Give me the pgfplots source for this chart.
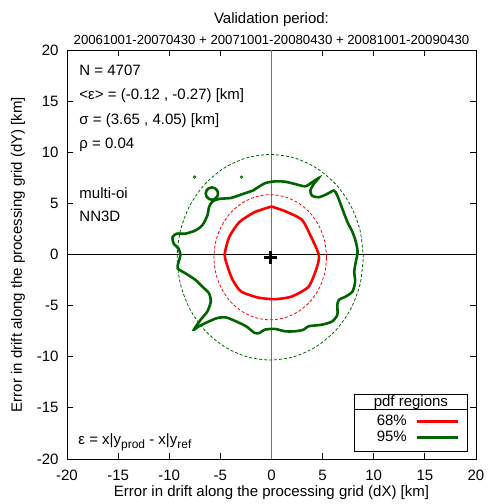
\documentclass[border=0pt]{standalone}
\usepackage{fontspec}
\setmainfont{Liberation Sans}
\usepackage{pgfplots}
\pgfplotsset{compat=1.18}
\definecolor{dgreen}{RGB}{0,100,0}
\definecolor{vred}{RGB}{255,0,0}
\begin{document}
\begin{tikzpicture}[font=\fontsize{15bp}{18bp}\selectfont]
\begin{axis}[name=ax, at={(0,0)}, anchor=south west,
  scale only axis, width=409bp, height=409bp,
  xmin=-20, xmax=20, ymin=-20, ymax=20,
  xtick={-20,-15,-10,-5,0,5,10,15,20},
  ytick={-20,-15,-10,-5,0,5,10,15,20},
  xticklabels={-20,-15,-10,-5,0,5,10,15,20},
  yticklabels={-20,-15,-10,-5,0,5,10,15,20},
  tick align=inside, major tick length=6bp,
  axis line style={line width=0.9bp},
  tick style={line width=0.8bp, black},
  xticklabel style={yshift=-8bp},
  yticklabel style={xshift=-5bp},
  every axis x label/.style={at={(axis description cs:0.5,-0.083)}, anchor=center},
  every axis y label/.style={at={(axis description cs:-0.12,0.5)}, anchor=center, rotate=90},
  xlabel={Error in drift along the processing grid (dX) [km]},
  ylabel={Error in drift along the processing grid (dY) [km]},
  legend style={draw=none, fill=none, inner sep=0pt, at={(axis cs:18.4,-15.6)}, anchor=north east,
    nodes={inner sep=0pt, text height=11bp, text depth=3bp},
    row sep=2bp, column sep=9bp, cells={anchor=east}},
  legend plot pos=right,
  legend image code/.code={\draw[#1] (0bp,0bp) -- (41bp,0bp);},
]
% zero lines
\addplot[black, line width=0.9bp, forget plot] coordinates {(-20,0) (20,0)};
\addplot[black!55, line width=1.4bp, forget plot] coordinates {(0,-20) (0,20)};

% 68% ellipse (dashed)
\addplot[vred, line width=0.8bp, dash pattern=on 3bp off 2bp, smooth, forget plot] coordinates {
(5.39,-0.27) (5.20,1.31) (4.65,2.79) (3.78,4.06) (2.64,5.03) (1.31,5.64) (-0.12,5.85)
(-1.55,5.64) (-2.88,5.03) (-4.02,4.06) (-4.89,2.79) (-5.44,1.31) (-5.63,-0.27)
(-5.44,-1.85) (-4.89,-3.33) (-4.02,-4.60) (-2.88,-5.57) (-1.55,-6.18) (-0.12,-6.39)
(1.31,-6.18) (2.64,-5.57) (3.78,-4.60) (4.65,-3.33) (5.20,-1.85) (5.39,-0.27)};

% 95% ellipse (dashed)
\addplot[dgreen, line width=0.8bp, dash pattern=on 3bp off 2bp, smooth, forget plot] coordinates {
(8.98,-0.27) (8.67,2.33) (7.76,4.76) (6.31,6.84) (4.43,8.43) (2.24,9.44) (-0.12,9.78)
(-2.48,9.44) (-4.67,8.43) (-6.55,6.84) (-8.00,4.76) (-8.91,2.33) (-9.22,-0.27)
(-8.91,-2.87) (-8.00,-5.30) (-6.55,-7.38) (-4.67,-8.97) (-2.48,-9.98) (-0.12,-10.32)
(2.24,-9.98) (4.43,-8.97) (6.31,-7.38) (7.76,-5.30) (8.67,-2.87) (8.98,-0.27)};

% 68% contour
\addplot[vred, line width=2.6bp, smooth, tension=0.4] coordinates {
(0,4.69) (1.32,4.24) (2.97,3.40) (3.80,1.88) (4.62,0) (4.46,-1.20) (3.63,-3.14)
(1.98,-4.11) (0.33,-4.37) (-1.32,-4.21) (-2.97,-3.62) (-3.80,-2.49) (-4.29,-1.20)
(-4.58,0) (-4.13,1.72) (-3.14,3.17) (-1.65,4.14) (0,4.69)};
\addlegendentry{68\%}

% 95% contour
\addplot[dgreen, line width=2.6bp, smooth, tension=0.45] coordinates {
(-1.82,6.25) (-0.66,6.96) (0.33,7.15) (1.32,7.12) (2.31,6.89) (3.30,6.67) (3.96,7.06)
(4.62,7.48) (4.13,6.89) (3.80,6.25) (3.96,5.76) (4.62,5.60) (5.45,5.92) (6.11,6.25)
(6.44,5.76) (6.93,4.47) (7.43,3.17) (7.92,2.20) (8.25,1.23) (8.42,0.26) (8.25,-0.71)
(8.09,-1.68) (8.18,-2.65) (7.92,-3.62) (7.26,-4.11) (6.60,-4.43) (6.44,-4.92)
(6.44,-5.89) (5.94,-6.54) (4.95,-6.86) (3.63,-7.02) (3.14,-7.35) (2.31,-7.51)
(1.32,-7.51) (0.33,-7.28) (-0.66,-7.35) (-1.16,-7.67) (-1.65,-7.67) (-2.48,-7.02)
(-3.47,-6.54) (-4.46,-6.15) (-5.28,-6.21) (-6.11,-6.54) (-7.10,-7.02) (-7.59,-7.35)
(-6.93,-6.38) (-6.27,-5.57) (-5.94,-4.60) (-6.11,-3.79) (-6.60,-3.30) (-7.43,-2.49)
(-8.42,-1.84) (-9.17,-1.36) (-9.08,-0.71) (-8.91,-0.06) (-9.08,0.58) (-9.57,1.07)
(-9.67,1.72) (-9.24,2.04) (-8.42,2.04) (-7.43,2.36) (-6.77,2.85) (-6.27,3.82)
(-6.11,4.63) (-5.78,5.18) (-5.12,5.44) (-3.96,5.53) (-2.81,5.92) (-1.82,6.25)};
\addlegendentry{95\%}

% small closed contour
\addplot[dgreen, line width=2.6bp, smooth, forget plot] coordinates {
(-5.23,5.96) (-5.31,6.26) (-5.53,6.48) (-5.83,6.56) (-6.13,6.48) (-6.35,6.26) (-6.43,5.96)
(-6.35,5.66) (-6.13,5.44) (-5.83,5.36) (-5.53,5.44) (-5.31,5.66) (-5.23,5.96)};
% tiny contours
\addplot[only marks, mark=o, mark size=1.2bp, dgreen, line width=0.8bp, forget plot] coordinates {(-7.52,7.57) (-2.94,7.57)};

% mean
\addplot[only marks, mark=+, mark size=6.3bp, black, mark options={line width=2.6bp}, forget plot] coordinates {(-0.12,-0.27)};

% texts
\node[anchor=base west, inner sep=0pt] at (axis cs:-18.8,17.5) {N = 4707};
\node[anchor=base west, inner sep=0pt] at (axis cs:-18.8,15.12) {<ε> = (-0.12 , -0.27) [km]};
\node[anchor=base west, inner sep=0pt] at (axis cs:-18.8,12.74) {σ = (3.65 , 4.05) [km]};
\node[anchor=base west, inner sep=0pt] at (axis cs:-18.8,10.36) {ρ = 0.04};
\node[anchor=base west, inner sep=0pt] at (axis cs:-18.8,5.5) {multi-oi};
\node[anchor=base west, inner sep=0pt] at (axis cs:-18.8,3.2) {NN3D};
\node[anchor=base west, inner sep=0pt] at (axis cs:-18.9,-18.6) {ε = x|y\raisebox{-0.45ex}{\fontsize{12bp}{14bp}\selectfont prod} - x|y\raisebox{-0.45ex}{\fontsize{12bp}{14bp}\selectfont ref}};

% legend frame
\draw[line width=0.8bp] (axis cs:8.07,-13.68) rectangle (axis cs:19.2,-19.3);
\draw[line width=0.8bp] (axis cs:8.07,-15.18) -- (axis cs:19.2,-15.18);
\node[anchor=base, inner sep=0pt] at (axis cs:13.63,-14.85) {pdf regions};
\end{axis}
% title
\node[anchor=base, inner sep=0pt] at ([yshift=26.5bp]ax.north) {Validation period:};
\node[anchor=base, inner sep=0pt, font=\fontsize{13.2bp}{16bp}\selectfont] at ([yshift=5.5bp]ax.north) {20061001-20070430 + 20071001-20080430 + 20081001-20090430};
\pgfresetboundingbox
\path (ax.south west) ++(-67bp,-45bp) rectangle ++(488bp,504bp);
\end{tikzpicture}
\end{document}
